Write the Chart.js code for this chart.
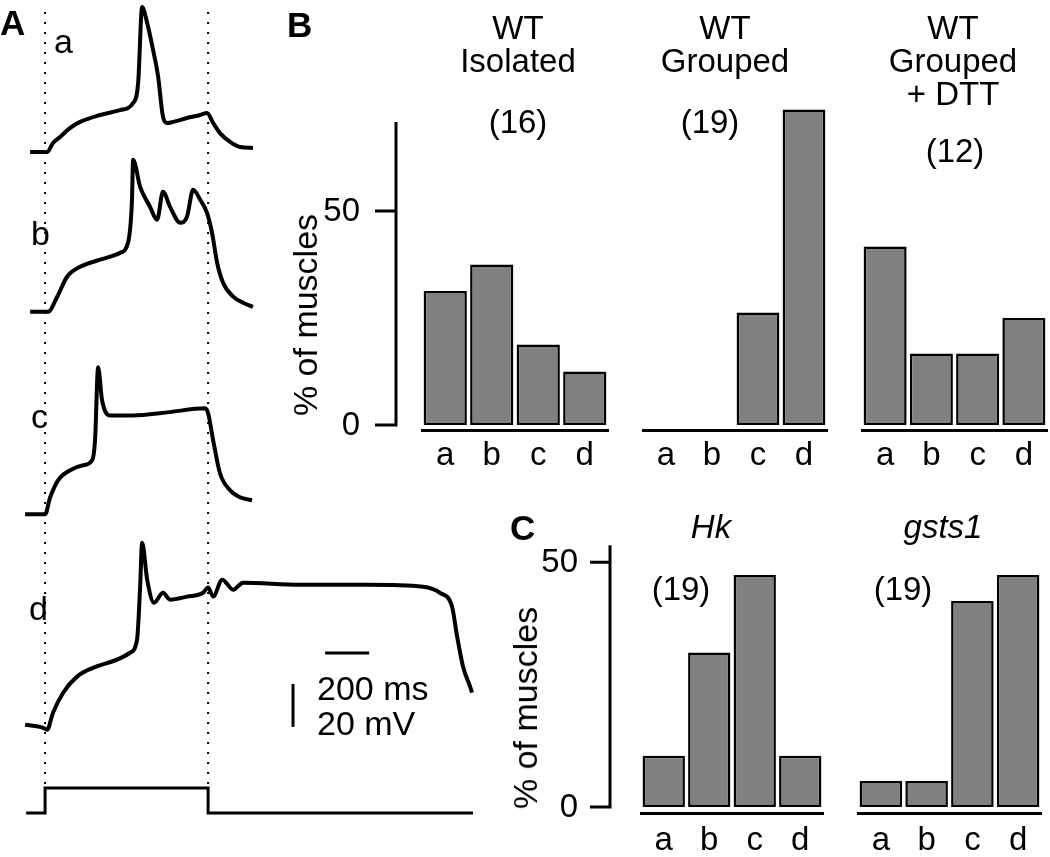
<!DOCTYPE html>
<html>
<head>
<meta charset="utf-8">
<script src="https://cdn.jsdelivr.net/npm/chart.js@4.4.1/dist/chart.umd.min.js"></script>
<style>
  body { margin: 0; background: #fff; }
  #fig { position: relative; width: 1050px; height: 857px; overflow: hidden;
         font-family: 'Liberation Sans', Arial, sans-serif; color: #000; }
  canvas { position: absolute; }
  .t { position: absolute; font-size: 33px; line-height: 33px; white-space: nowrap; }
  .c { transform: translateX(-50%); text-align: center; }
  .big { font-size: 34px; line-height: 34px; }
  .lbl { font-weight: bold; font-size: 35px; line-height: 35px; }
  .rot { font-size: 34px; line-height: 34px; transform: translate(-50%, -50%) rotate(-90deg); }
</style>
</head>
<body>
<div id="fig">
  <canvas id="traces" width="480" height="857" style="left:0;top:0"></canvas>
  <canvas id="b1" width="340" height="380" style="left:280px;top:100px"></canvas>
  <canvas id="b2" width="200" height="380" style="left:640px;top:100px"></canvas>
  <canvas id="b3" width="195" height="380" style="left:855px;top:100px"></canvas>
  <canvas id="c1" width="310" height="337" style="left:520px;top:520px"></canvas>
  <canvas id="c2" width="200" height="337" style="left:850px;top:520px"></canvas>

  <div class="t lbl" style="left:0;top:5px">A</div>
  <div class="t big" style="left:54px;top:24px">a</div>
  <div class="t big" style="left:31px;top:216px">b</div>
  <div class="t big" style="left:31px;top:399px">c</div>
  <div class="t big" style="left:29px;top:591px">d</div>
  <div class="t big" style="left:317px;top:671px">200 ms</div>
  <div class="t big" style="left:317px;top:706px">20 mV</div>

  <div class="t lbl" style="left:287px;top:7px">B</div>
  <div class="t c" style="left:518px;top:11px">WT<br>Isolated</div>
  <div class="t c" style="left:725px;top:11px">WT<br>Grouped</div>
  <div class="t c" style="left:953px;top:11px">WT<br>Grouped<br>+ DTT</div>
  <div class="t c" style="left:518px;top:105px">(16)</div>
  <div class="t c" style="left:710px;top:105px">(19)</div>
  <div class="t c" style="left:955px;top:134px">(12)</div>
  <div class="t rot" style="left:305px;top:315px">% of muscles</div>

  <div class="t lbl" style="left:510px;top:510px">C</div>
  <div class="t c" style="left:711px;top:510px;font-style:italic">Hk</div>
  <div class="t c" style="left:943px;top:510px;font-style:italic">gsts1</div>
  <div class="t c" style="left:681px;top:572px">(19)</div>
  <div class="t c" style="left:903px;top:572px">(19)</div>
  <div class="t rot" style="left:525px;top:708px">% of muscles</div>
</div>

<script>
// --- data ---
const categories = ['a', 'b', 'c', 'd'];
const yTicks = [0, 50];

// % of muscles showing each response type
const wtIsolated = [31.3, 37.5, 18.8, 12.5];
const wtGrouped = [0, 0, 26.3, 73.7];
const wtGroupedDtt = [41.7, 16.7, 16.7, 25.0];
const hkValues = [10.5, 31.6, 47.4, 10.5];
const gsts1Values = [5.3, 5.3, 42.1, 47.4];

// voltage traces: time (ms from stimulus onset), depolarisation (mV above rest)
const timeA = [-68, 0, 9, 36, 68, 114, 159, 250, 341, 400, 423, 441, 464, 491, 514, 536, 555, 582, 645, 705, 736, 764, 795, 841, 886, 945];
const vmA   = [0, 0, 0, 4.2, 7, 11.2, 14, 17.2, 19.5, 22.8, 32.1, 67.4, 60, 47.4, 34.9, 16.3, 13.5, 14, 15.8, 17.2, 18.1, 13.5, 8.8, 4.7, 2.3, 1.9];

const timeB = [-68, 14, 55, 100, 159, 250, 341, 377, 395, 400, 432, 477, 509, 536, 568, 614, 645, 673, 705, 736, 759, 782, 809, 855, 900, 945];
const vmB   = [0, 0, 7, 16.3, 20.9, 24.2, 27.4, 32.1, 52.1, 70.7, 58.1, 48.8, 42.8, 55.8, 48.8, 41.4, 44.2, 56.7, 52.1, 46, 36.7, 22.8, 13.5, 7, 4.2, 2.3];

const timeC = [-91, 0, 23, 59, 114, 173, 214, 227, 241, 259, 295, 400, 555, 727, 741, 764, 795, 841, 886, 941];
const vmC   = [0, 0, 7.9, 15.8, 20.5, 22.8, 25.1, 34.4, 68.4, 53, 46, 46, 47.4, 49.3, 47, 34.4, 19.1, 11.2, 7.9, 6.5];

const timeD = [-91, -9, 9, 36, 82, 145, 218, 327, 386, 418, 432, 441, 464, 495, 536, 568, 645, 718, 741, 764, 805, 855, 900, 1159, 1464, 1718, 1795, 1850, 1873, 1900, 1932, 1941];
const vmD   = [0.9, -0.5, -1.4, 6.5, 15.8, 23.3, 27.4, 31.2, 34.4, 40.5, 65.1, 85.6, 68.4, 57.7, 62.3, 59.1, 60.5, 62.3, 64.7, 60.5, 68.4, 63.7, 67, 66, 66, 65.1, 62.3, 55.8, 41.9, 27.9, 18.6, 15.8];

// current step
const stimOn = 0;
const stimOff = 741;
const stimT = [-86, stimOn, stimOn, stimOff, stimOff, 1945];
const stimLevel = [0, 0, 1, 1, 0, 0];

const scaleMs = 200;
const scaleMv = 20;

// --- panel A ---
const traceRest = [327.9, 253.6, 159.4, 60.6]; // vertical stacking of the traces
const stimBase = 20.5, stimHeight = 11.6;

function pts(ts, vs, base, k) {
  return ts.map((t, i) => ({ x: t, y: base + vs[i] * (k || 1) }));
}
function line(data, extra) {
  return Object.assign({ data: data, borderColor: '#000', borderWidth: 4, pointRadius: 0,
    fill: false, cubicInterpolationMode: 'monotone' }, extra || {});
}

const traceData = [[timeA, vmA], [timeB, vmB], [timeC, vmC], [timeD, vmD]];
const aSets = traceData.map((td, i) => line(pts(td[0], td[1], traceRest[i])));
aSets.push(line(pts(stimT, stimLevel, stimBase, stimHeight), { borderWidth: 3, cubicInterpolationMode: 'default', tension: 0 }));
[stimOn, stimOff].forEach(t => {
  aSets.push(line([{ x: t, y: 393 }, { x: t, y: stimBase + stimHeight }],
    { borderWidth: 2, borderDash: [2, 8], tension: 0, cubicInterpolationMode: 'default' }));
});
aSets.push(line([{ x: 1273, y: 94.9 }, { x: 1273 + scaleMs, y: 94.9 }], { borderWidth: 3, tension: 0 }));
aSets.push(line([{ x: 1127, y: 60.5 }, { x: 1127, y: 60.5 + scaleMv }], { borderWidth: 3, tension: 0 }));

new Chart(document.getElementById('traces'), {
  type: 'line',
  data: { datasets: aSets },
  options: {
    responsive: false, animation: false, events: [],
    layout: { padding: 0 },
    plugins: { legend: { display: false }, tooltip: { enabled: false } },
    scales: {
      x: { type: 'linear', display: false, min: -205, max: 1977 },
      y: { type: 'linear', display: false, min: 0, max: 398.6 }
    }
  }
});

// --- bar panels ---
// draws the detached y axis to the left of the bars
const sideAxis = {
  id: 'sideAxis',
  afterDraw(chart, args, opts) {
    if (!opts.show) return;
    const ctx = chart.ctx, y = chart.scales.y;
    const ax = chart.chartArea.left - opts.gap;
    ctx.save();
    ctx.strokeStyle = '#000';
    ctx.lineWidth = 3;
    ctx.beginPath();
    ctx.moveTo(ax, y.getPixelForValue(opts.top));
    ctx.lineTo(ax, y.getPixelForValue(0) + 1.5);
    yTicks.forEach(v => {
      const py = y.getPixelForValue(v);
      ctx.moveTo(ax - opts.tickLen, py);
      ctx.lineTo(ax, py);
    });
    ctx.stroke();
    ctx.fillStyle = '#000';
    ctx.font = "33px 'Liberation Sans', Arial, sans-serif";
    ctx.textAlign = 'right';
    ctx.textBaseline = 'middle';
    yTicks.forEach(v => {
      ctx.fillText(String(v), ax - opts.tickLen - opts.labelGap, y.getPixelForValue(v) + 1);
    });
    ctx.restore();
  }
};

function barChart(id, values, o) {
  new Chart(document.getElementById(id), {
    type: 'bar',
    data: {
      labels: categories,
      datasets: [{
        data: values,
        backgroundColor: '#808080',
        borderColor: '#000',
        borderWidth: c => (c.raw === 0 ? 0 : 2.5),
        borderSkipped: false,
        barPercentage: 0.93,
        categoryPercentage: 1
      }]
    },
    options: {
      responsive: false, animation: false, events: [],
      layout: { padding: o.pad },
      plugins: {
        legend: { display: false }, tooltip: { enabled: false },
        sideAxis: o.axis || { show: false }
      },
      scales: {
        x: {
          grid: { display: false, drawTicks: false },
          border: { display: true, color: '#000', width: 3 },
          ticks: { color: '#000', padding: o.labelPad,
                   font: { size: 33, family: "'Liberation Sans', Arial, sans-serif" } },
          afterFit: s => { s.height = o.xh; }
        },
        y: { display: false, min: o.min, max: o.max }
      }
    },
    plugins: [sideAxis]
  });
}

const rowB = { min: -1.17, max: 75, xh: 50, labelPad: 6 };
barChart('b1', wtIsolated, Object.assign({ pad: { left: 142, right: 12, top: 4, bottom: 0 },
  axis: { show: true, gap: 26, top: 70.8, tickLen: 21, labelGap: 15 } }, rowB));
barChart('b2', wtGrouped, Object.assign({ pad: { left: 3, right: 13, top: 4, bottom: 0 } }, rowB));
barChart('b3', wtGroupedDtt, Object.assign({ pad: { left: 7, right: 3, top: 4, bottom: 0 } }, rowB));

const rowC = { min: -1.22, max: 56, xh: 44, labelPad: 8 };
barChart('c1', hkValues, Object.assign({ pad: { left: 121, right: 7, top: 13, bottom: 0 },
  axis: { show: true, gap: 31, top: 53.5, tickLen: 20, labelGap: 12 } }, rowC));
barChart('c2', gsts1Values, Object.assign({ pad: { left: 8, right: 9, top: 13, bottom: 0 } }, rowC));
</script>
</body>
</html>
